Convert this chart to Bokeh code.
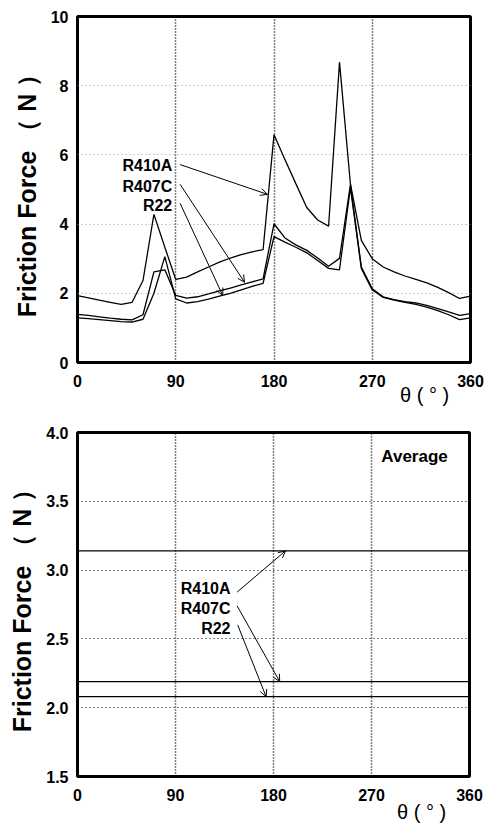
from bokeh.plotting import figure
from bokeh.layouts import column
from bokeh.models import (FixedTicker, PrintfTickFormatter, Label, Arrow, OpenHead,
                          LinearAxis)
from bokeh.embed import file_html
from bokeh.resources import INLINE

# Crank angle (deg) and friction force (N) for each refrigerant
theta = list(range(0, 361, 10))
r410a = [1.93, 1.87, 1.80, 1.74, 1.68, 1.74, 2.37, 4.28, 3.33, 2.40,
         2.47, 2.62, 2.76, 2.90, 3.02, 3.12, 3.20, 3.26, 6.58, 5.87,
         5.17, 4.48, 4.12, 3.94, 8.68, 5.16, 3.53, 3.00, 2.76, 2.62,
         2.50, 2.40, 2.30, 2.17, 2.02, 1.85, 1.92]
r407c = [1.39, 1.36, 1.32, 1.28, 1.25, 1.23, 1.38, 2.62, 2.68, 1.94,
         1.86, 1.90, 1.98, 2.07, 2.15, 2.24, 2.33, 2.42, 4.01, 3.60,
         3.40, 3.24, 3.02, 2.78, 3.01, 5.14, 2.76, 2.13, 1.90, 1.82,
         1.76, 1.72, 1.65, 1.56, 1.46, 1.36, 1.41]
r22 = [1.29, 1.27, 1.24, 1.21, 1.18, 1.17, 1.25, 2.00, 3.06, 1.84,
       1.72, 1.76, 1.83, 1.92, 2.00, 2.10, 2.20, 2.29, 3.64, 3.48,
       3.33, 3.17, 2.95, 2.72, 2.68, 5.05, 2.72, 2.10, 1.88, 1.80,
       1.74, 1.68, 1.60, 1.50, 1.38, 1.24, 1.29]

# Cycle-averaged friction force (N)
avg_names = ["R410A", "R407C", "R22"]
avg_values = [3.14, 2.19, 2.08]

x_ticks = [0, 90, 180, 270, 360]
top_y_ticks = [0, 2, 4, 6, 8, 10]
bottom_y_ticks = [1.5, 2.0, 2.5, 3.0, 3.5, 4.0]

FONT = "Liberation Sans"
Y_LABEL = "Friction Force （ N ）"
X_LABEL = "θ ( ° )"


def style(p, yticks, hgrid_color, theta_x, theta_standoff):
    p.outline_line_color = "black"
    p.outline_line_width = 3
    p.xaxis.ticker = FixedTicker(ticks=x_ticks)
    p.yaxis.ticker = FixedTicker(ticks=yticks)
    for ax in (p.xaxis[0], p.yaxis[0]):
        ax.axis_line_color = None
        ax.major_tick_line_color = None
        ax.minor_tick_line_color = None
        ax.major_tick_out = 0
        ax.major_tick_in = 0
        ax.major_label_text_font = FONT
        ax.major_label_text_font_style = "bold"
        ax.major_label_text_font_size = "16px"
        ax.major_label_text_color = "black"
    p.xaxis.major_label_standoff = 12
    p.yaxis.major_label_standoff = 9
    p.yaxis.axis_label = Y_LABEL
    p.yaxis.axis_label_text_font = FONT
    p.yaxis.axis_label_text_font_style = "bold"
    p.yaxis.axis_label_text_font_size = "25px"
    p.yaxis.axis_label_text_color = "black"
    p.yaxis.axis_label_standoff = 7
    p.xgrid.grid_line_color = "black"
    p.xgrid.grid_line_dash = "1 2"
    p.xgrid.grid_line_width = 1.5
    p.ygrid.grid_line_color = hgrid_color
    p.ygrid.grid_line_dash = "1 3"
    p.ygrid.grid_line_width = 1.2
    p.background_fill_color = "white"
    p.border_fill_color = "white"
    # second, tick-less axis carrying the angle label near the right end
    name_axis = LinearAxis(ticker=FixedTicker(ticks=[theta_x]),
                           major_label_overrides={theta_x: X_LABEL},
                           axis_line_color=None, major_tick_line_color=None,
                           minor_tick_line_color=None, major_tick_out=0,
                           major_tick_in=0, major_label_standoff=theta_standoff,
                           major_label_text_font=FONT,
                           major_label_text_font_size="20px",
                           major_label_text_font_style="normal",
                           major_label_text_color="black")
    p.add_layout(name_axis, "below")


def label(p, x, y, text, align="right", size="16px", style_="bold"):
    p.add_layout(Label(x=x, y=y, text=text, text_align=align,
                       text_baseline="middle", text_font=FONT,
                       text_font_size=size, text_font_style=style_,
                       text_color="black"))


def arrow(p, x0, y0, x1, y1):
    p.add_layout(Arrow(end=OpenHead(size=7, line_width=1, line_color="black"),
                       x_start=x0, y_start=y0, x_end=x1, y_end=y1,
                       line_width=1, line_color="black"))


# ---- upper panel: friction force over one revolution ----
top = figure(frame_width=393, frame_height=346, x_range=(0, 360), y_range=(0, 10),
             output_backend="svg", toolbar_location=None,
             min_border_left=73, min_border_right=20,
             min_border_top=16, min_border_bottom=48)
style(top, top_y_ticks, "#9a9a9a", 318, -6)

for series in (r410a, r407c, r22):
    top.line(theta, series, line_color="black", line_width=1.3)

label(top, 86.8, 5.69, "R410A")
label(top, 86.8, 5.09, "R407C")
label(top, 86.8, 4.54, "R22")
arrow(top, 94, 5.72, 174, 4.86)
arrow(top, 94, 5.15, 153, 2.32)
arrow(top, 94, 4.6, 133, 1.94)

# ---- lower panel: averaged friction force ----
bottom = figure(frame_width=392, frame_height=344, x_range=(0, 360), y_range=(1.5, 4.0),
                output_backend="svg", toolbar_location=None,
                min_border_left=77, min_border_right=17,
                min_border_top=22, min_border_bottom=51)
style(bottom, bottom_y_ticks, "black", 316, -3)
bottom.yaxis.formatter = PrintfTickFormatter(format="%.1f")

for v in avg_values:
    bottom.line([theta[0], theta[-1]], [v, v], line_color="black", line_width=1.2)

label(bottom, 140.5, 2.866, avg_names[0])
label(bottom, 140.5, 2.721, avg_names[1])
label(bottom, 140.5, 2.576, avg_names[2])
arrow(bottom, 146.6, 2.84, 191, avg_values[0])
arrow(bottom, 146.6, 2.74, 185.7, avg_values[1])
arrow(bottom, 147.2, 2.60, 173.2, avg_values[2])
label(bottom, 279, 3.826, "Average", align="left", size="17px")

layout = column(top, bottom, spacing=0)
open("out.html", "w").write(file_html(layout, INLINE))
